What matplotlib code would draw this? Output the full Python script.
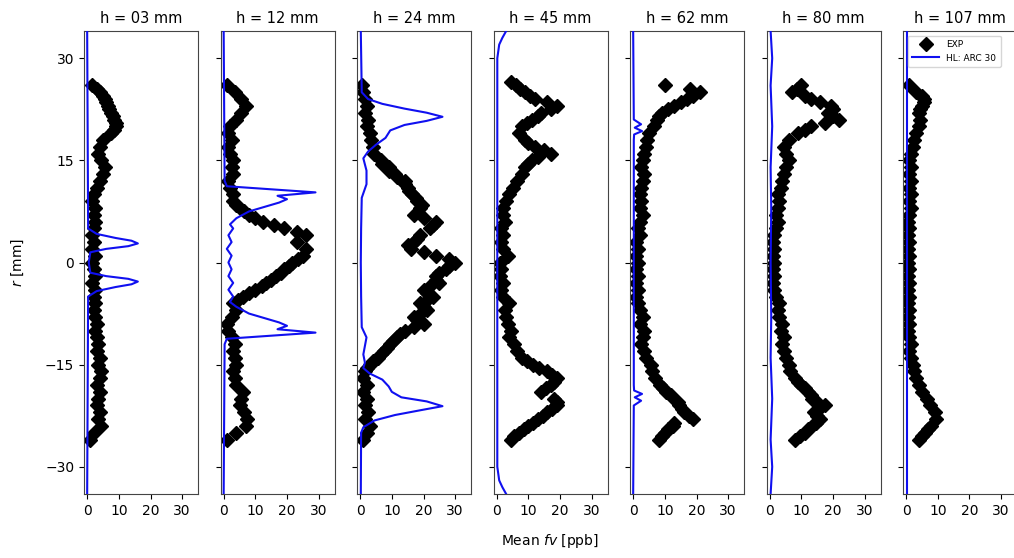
import numpy as np
import matplotlib.pyplot as plt

# alturas (titulos dos paineis)
ALTURAS = ["03", "12", "24", "45", "62", "80", "107"]

# raio das medicoes EXP [mm]
R_EXP = list(range(-26, 27))

# fv medio EXP [ppb], em ordem de r crescente (-26 ... 26)
EXP_03 = [1, 2, 4.5, 3.5, 4, 3, 3.5, 4, 3, 4, 4.5, 3.5, 4, 3, 3.5, 3, 2.5, 3, 2.5,
          2, 2.5, 2, 2.5, 1.5, 2.5, 2, 1.5, 2.5, 1.5, 2, 1.5, 2, 2.5, 2, 2.5, 1.5,
          2, 3, 4, 5, 5.5, 4.5, 3.5, 4, 5, 7.5, 9, 8.5, 7.5, 6.5, 5.5, 4, 1.5]
EXP_12 = [1, 4, 7, 7.5, 6.5, 5, 5.5, 6, 4, 3.5, 3, 4, 3.5, 3, 3.5, 2.5, 1.5, 1,
          2.5, 4, 3, 6, 10, 13.5, 16.5, 19, 21.5, 25, 26, 23, 26, 19, 12.5, 8, 5,
          3, 3, 2, 1.5, 3, 2.5, 3, 2, 1.5, 2.5, 1.5, 2, 4, 5.5, 7, 5.5, 3.5, 1]
EXP_24 = [1, 2, 3, 1.5, 2.5, 1.5, 2, 1, 2, 1, 1.5, 3, 5.5, 7.5, 9.5, 11.5, 14, 20,
          17, 21, 19, 23, 20, 25, 24, 27, 30, 24, 16, 17, 19, 22, 24, 17, 19, 18,
          16.5, 15, 14, 11, 9, 6.5, 4.5, 4, 3.5, 3, 2, 2.5, 1.5, 2, 1.5, 1, 0.5]
EXP_45 = [4.5, 7, 10, 13, 16, 19, 18, 14, 17, 19, 16, 11.5, 8, 6.5, 5.5, 4, 4.5,
          3.5, 3, 2.5, 4, 2, 1.5, 2, 1, 1.5, 1, 3.5, 2, 1.5, 2, 1.5, 2.5, 2, 2, 3,
          4, 5, 6.5, 8, 9, 11, 17, 12, 9, 7, 8, 11, 14, 19, 12, 9, 6]
EXP_62 = [8, 10, 12.5, 19, 16, 14.5, 13, 10.5, 8.5, 7, 6, 5.5, 4, 3.5, 2.5, 3,
          3.5, 2, 3, 2, 1.5, 1, 1.5, 1, 1.5, 1, 1.5, 1, 1.5, 1, 2, 1.5, 2, 3, 2,
          2.5, 2, 2.5, 3, 3.5, 2.5, 3, 3.5, 4, 4.5, 5, 6.5, 7.5, 9, 13, 17, 21, 10]
EXP_80 = [8, 11, 13.5, 16, 14, 17.5, 13.5, 12, 10, 8, 6.5, 6, 5, 4.5, 4, 4.5,
          3.5, 4, 3, 2.5, 3, 2, 1.5, 1, 1.5, 1, 1.5, 1, 1.5, 1, 1.5, 2, 2.5, 2,
          2.5, 3, 2.5, 3.5, 4, 4.5, 5, 6, 5, 4.5, 6, 9, 13, 22, 18.5, 19.5, 13, 7, 10]
EXP_107 = [4, 6, 8, 9.5, 9, 7.5, 6.5, 5, 4, 3, 2.5, 2, 1.5, 1, 1.5, 1, 0.5, 1,
           0.5, 1, 0.5, 1, 0.5, 1, 0.5, 1, 0.5, 1, 0.5, 1, 0.5, 1, 0.5, 1, 1.5, 1,
           1.5, 1, 1.5, 1, 1.5, 1, 1.5, 2, 2.5, 3, 4, 4.5, 4, 5, 5.5, 3, 1]

# pontos EXP intermediarios (meio mm) nos trechos mais ingremes
R_EXTRA_03 = [19.5, 20.5, 21.5, 22.5, 23.5, 24.5, 25.5]
EXTRA_03 = [8.5, 9, 8, 7, 6, 5, 3]
R_EXTRA_12 = [-5.5, -4.5, -3.5, -2.5, -1.5, -0.5, 0.5, 4.5, 5.5, 6.5, 7.5, 8.5]
EXTRA_12 = [4.5, 8, 12, 15, 18, 20.5, 23.5, 23, 16, 10, 6.5, 4]
R_EXTRA_24 = [-15.5, -14.5, -13.5, -12.5, -11.5, -10.5, -9.5, -8.5, -7.5, -6.5,
              -5.5, -4.5, -3.5, -2.5, -1.5, -0.5, 0.5, 1.5, 2.5, 3.5, 5.5, 6.5,
              8.5, 9.5, 10.5, 11.5, 12.5, 13.5, 14.5]
EXTRA_24 = [2, 4, 6.5, 8.5, 10.5, 12.5, 17, 18, 19, 20, 21, 21, 22, 24, 25, 28,
            28, 20, 15, 18, 23, 20, 19.5, 17.5, 15.5, 14, 11.5, 9, 7]
R_EXTRA_45 = [-25.5, -24.5, -23.5, -22.5, -21.5, -20.5, -18.5, -17.5, -16.5,
              -15.5, -14.5, 14.5, 15.5, 16.5, 17.5, 20.5, 21.5, 22.5, 23.5, 24.5,
              25.5, 26.5]
EXTRA_45 = [5.5, 8.5, 11.5, 14.5, 17.5, 19, 15.5, 18, 17.5, 13.5, 9.5, 10, 13,
            15, 10, 9.5, 13, 17, 16, 10.5, 7.5, 4.5]
R_EXTRA_62 = [-25.5, -24.5, -23.5, -22.5, -21.5, -20.5, -19.5, -18.5, 21.5,
              22.5, 23.5, 24.5, 25.5]
EXTRA_62 = [9, 11, 13, 17.5, 15.5, 14, 12, 9.5, 8, 11, 15, 19, 18]
R_EXTRA_80 = [-25.5, -24.5, -23.5, -22.5, -21.5, -20.5, -19.5, -18.5, -17.5,
              19.5, 20.5, 21.5, 22.5, 23.5, 24.5, 25.5]
EXTRA_80 = [9.5, 12, 14.5, 15, 15.5, 15, 13, 11, 9, 11, 17.5, 20, 20, 16, 11, 8.5]
R_EXTRA_107 = [-25.5, -24.5, 22.5, 23.5, 24.5]
EXTRA_107 = [5, 7, 4.5, 5.5, 5]

# modelo HL: ARC (r [mm], fv [ppb])
R_HL_03 = [-34, -5, -4.2, -3.6, -3.2, -2.8, -2.4, -2.0, -1.5, 0, 1.5, 2.0, 2.4,
           2.8, 3.2, 3.6, 4.2, 5, 34]
HL_03 = [0, 0.3, 3, 9, 14, 16, 13, 6, 1, 0.5, 1, 6, 13, 16, 14, 9, 3, 0.3, 0]

R_HL_12 = [-34, -12, -11.2, -10.3, -9.8, -9.3, -8.8, -7.5, -6.5, -5.8, -5, -4,
           -3, -2, -1, 0, 1, 2, 3, 4, 5, 5.6, 6.5, 7.5, 8.8, 9.3, 9.8, 10.3, 11.2,
           12, 34]
HL_12 = [0, 0.3, 1, 29, 17, 20, 17.5, 8, 4, 2, 3, 1.5, 3, 1.5, 2.5, 1.5, 2.5, 1,
         2.5, 1.5, 3, 2, 4, 8, 17.5, 20, 17, 29, 1, 0.3, 0]

R_HL_24 = [-34, -25, -24.2, -23.2, -22.4, -21.7, -21.1, -20.4, -19.8, -19, -18.2,
           -17.2, -16.3, -15.5, -14.7, -13.5, -11, -9.5, -5, 0, 5, 9.5, 11.5,
           13.5, 15.3, 16.3, 17.3, 18.3, 19.4, 20.2, 20.8, 21.4, 22.0, 22.6,
           23.3, 24, 25, 34]
HL_24 = [0.2, 0.3, 1, 4.5, 11, 19, 26, 21, 13, 10, 9, 7, 3, 1, 1.5, 1, 2, 0.5,
         0.3, 0.2, 0.3, 0.5, 2, 2, 1, 2.5, 5, 8, 9.5, 14, 21, 26, 21, 14, 7,
         2.5, 0.5, 0.2]

R_HL_45 = [-34, -33, -32, -30, 0, 30, 32, 33, 34]
HL_45 = [3, 1.8, 0.8, 0.2, 0.2, 0.2, 0.8, 1.8, 3]

R_HL_62 = [-34, -21, -20.3, -19.8, -19.3, -18.8, -18, 18, 18.8, 19.3, 19.8,
           20.3, 21, 34]
HL_62 = [0, 0.2, 2.5, 0.5, 2.8, 0.3, 0.2, 0.2, 0.3, 2.8, 0.5, 2.5, 0.2, 0]

R_HL_80 = [-34, -30, -26, -20, -14, -8, 0, 8, 14, 20, 26, 30, 34]
HL_80 = [0.3, 0.8, 0.3, 0.8, 0.3, 0.5, 0.3, 0.5, 0.3, 0.8, 0.3, 0.8, 0.3]

R_HL_107 = [-34, 34]
HL_107 = [0.3, 0.3]

EXP = [EXP_03, EXP_12, EXP_24, EXP_45, EXP_62, EXP_80, EXP_107]
R_EXTRA = [R_EXTRA_03, R_EXTRA_12, R_EXTRA_24, R_EXTRA_45, R_EXTRA_62,
           R_EXTRA_80, R_EXTRA_107]
EXTRA = [EXTRA_03, EXTRA_12, EXTRA_24, EXTRA_45, EXTRA_62, EXTRA_80, EXTRA_107]
R_HL = [R_HL_03, R_HL_12, R_HL_24, R_HL_45, R_HL_62, R_HL_80, R_HL_107]
HL = [HL_03, HL_12, HL_24, HL_45, HL_62, HL_80, HL_107]

W, H = 1014, 558
fig = plt.figure(figsize=(W / 100, H / 100), dpi=100)

for i, h in enumerate(ALTURAS):
    left = (84 + 136.5 * i) / W
    ax = fig.add_axes([left, 64 / H, 114 / W, 463 / H])
    ax.plot(EXP[i], R_EXP, ls="none", marker="D", ms=7, color="black",
            label="EXP", zorder=2)
    ax.plot(EXTRA[i], R_EXTRA[i], ls="none", marker="D", ms=7, color="black",
            zorder=2)
    ax.plot(HL[i], R_HL[i], color="#1010f0", lw=1.5, label="HL: ARC 30",
            zorder=3)
    ax.set_xlim(-1, 35)
    ax.set_ylim(-34, 34)
    ax.set_xticks([0, 10, 20, 30])
    ax.set_yticks([-30, -15, 0, 15, 30])
    ax.tick_params(labelsize=10)
    for s in ax.spines.values():
        s.set_color("#444444")
    if i > 0:
        ax.set_yticklabels([])
    ax.set_title(f"h = {h} mm", fontsize=10.5)
    if i == len(ALTURAS) - 1:
        ax.legend(loc="upper left", fontsize=6.5, markerscale=1.0,
                  handlelength=3.0, borderpad=0.5)

fig.text(18 / W, 1 - 263 / H, "$r$ [mm]", rotation=90, ha="center",
         va="center", fontsize=10)
fig.text(550 / W, 1 - 541 / H, "Mean $fv$ [ppb]", ha="center", va="center",
         fontsize=10)

fig.savefig("out.png", dpi=100)
